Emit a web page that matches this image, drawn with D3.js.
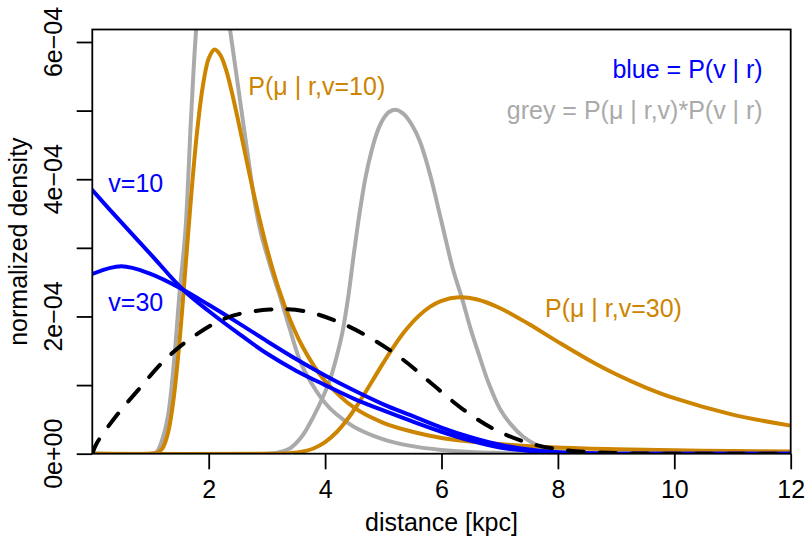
<!DOCTYPE html>
<html><head><meta charset="utf-8">
<script src="https://cdn.jsdelivr.net/npm/d3@7"></script>
<style>body{margin:0;background:#fff}svg{display:block}text{font-family:"Liberation Sans",Arial,Helvetica,sans-serif}</style>
</head><body>
<svg id="c" width="806" height="544"></svg>
<script>
// values in units of 1e-4 (normalized density), x in kpc
const blue10X = [0,0.5,1.0,1.56,2.0,2.5,3.0,3.5,4.0,4.5,5.0,5.5,6.0,6.5,7.0,7.5,8.0,8.5,9,10,12];
const blue10Y = [3.84,3.37,2.91,2.39,2.08,1.76,1.46,1.21,1.00,0.80,0.63,0.47,0.32,0.19,0.09,0.04,0.015,0.005,0,0,0];
const blue30X = [0,0.5,1.0,1.56,2.0,2.5,3.0,3.5,4.0,4.5,5.0,5.5,6.0,6.5,7.0,7.5,8.0,8.5,9,10,12];
const blue30Y = [2.62,2.73,2.62,2.39,2.17,1.91,1.64,1.38,1.14,0.92,0.72,0.55,0.38,0.24,0.13,0.06,0.02,0.007,0,0,0];
const orange10X = [0,1.0,1.1,1.2,1.3,1.4,1.5,1.6,1.7,1.8,1.9,2.0,2.1,2.2,2.3,2.4,2.5,2.6,2.8,3.0,3.2,3.4,3.6,3.8,4.0,4.5,5.0,5.5,6.0,7.0,8.0,9.0,10,11,12];
const orange10Y = [0,0,0.01,0.07,0.30,0.82,1.65,2.70,3.77,4.69,5.36,5.76,5.89,5.81,5.59,5.26,4.88,4.48,3.69,2.99,2.41,1.95,1.58,1.29,1.06,0.67,0.45,0.32,0.23,0.14,0.09,0.065,0.049,0.039,0.032];
const orange30X = [0,3.2,3.4,3.6,3.8,4.0,4.2,4.4,4.6,4.8,5.0,5.2,5.4,5.6,5.8,6.0,6.3,6.6,7.0,7.5,8.0,8.5,9.0,9.5,10,11,12];
const orange30Y = [0,0,0.008,0.028,0.076,0.168,0.316,0.52,0.77,1.045,1.324,1.587,1.816,2.001,2.139,2.228,2.28,2.251,2.124,1.89,1.63,1.381,1.158,0.968,0.809,0.57,0.409];
const grey10X = [0,1.0,1.1,1.2,1.3,1.4,1.5,1.6,1.7,1.8,1.9,2.0,2.1,2.2,2.3,2.4,2.5,2.6,2.7,2.8,2.9,3.0,3.1,3.2,3.3,3.4,3.5,3.6,3.8,4.0,4.2,4.5,5.0,5.5,6.0,6.5,7.0,7.5,12];
const grey10Y = [0,0,0.02,0.2,0.55,1.3,2.35,3.25,4.95,6.35,7.05,7.38,7.3,6.95,6.55,5.98,5.38,4.78,4.18,3.62,3.2,2.9,2.62,2.36,2.08,1.8,1.52,1.29,0.98,0.74,0.57,0.39,0.21,0.11,0.055,0.025,0.01,0,0];
const grey30X = [0,3.0,3.2,3.4,3.6,3.8,4.0,4.1,4.2,4.3,4.4,4.5,4.6,4.7,4.8,4.9,5.0,5.1,5.23,5.35,5.5,5.63,5.8,6.0,6.2,6.35,6.5,6.66,6.8,7.0,7.2,7.4,7.6,7.8,8.0,8.5,9,12];
const grey30Y = [0,0,0.02,0.08,0.25,0.54,0.90,1.12,1.42,1.78,2.3,2.95,3.55,4.05,4.42,4.7,4.88,4.98,5.01,4.95,4.78,4.55,4.08,3.38,2.68,2.27,1.82,1.40,1.05,0.66,0.42,0.25,0.14,0.07,0.035,0.005,0,0];
const priorX = [0,0.075,0.42,0.79,1.25,1.74,2.34,3.05,3.63,4.26,4.83,5.34,5.86,6.38,6.92,7.52,8.15,9,10,11,12];
const priorY = [0,0.15,0.56,0.93,1.37,1.71,1.99,2.10,2.08,1.91,1.66,1.37,1.00,0.64,0.35,0.15,0.05,0.01,0,0,0];
const xTicks = [2,4,6,8,10,12];
const yTicks = [0,1e-4,2e-4,3e-4,4e-4,5e-4,6e-4];
const yTickLabels = {0:"0e+00",2:"2e\u221204",4:"4e\u221204",6:"6e\u221204"};

const L=92.3,R=790.7,T=29.5,B=453.7;
const x = d3.scaleLinear().domain([0,12]).range([L,R]);
const y = d3.scaleLinear().domain([0,6.182e-4]).range([B,T]);
const svg = d3.select("#c");
const FS = 25;
const ORANGE="#CD8500", GREY="#AAAAAA", BLUE="#0000FF";

svg.append("clipPath").attr("id","clip").append("rect").attr("x",L).attr("y",T).attr("width",R-L).attr("height",B-T);
const g = svg.append("g").attr("clip-path","url(#clip)");
const line = d3.line().x(d=>x(d[0])).y(d=>y(Math.max(0,d[1])*1e-4)).curve(d3.curveCatmullRom.alpha(0.5));
function draw(xs,ys,color,dash){
  const p = g.append("path").datum(xs.map((v,i)=>[v,ys[i]])).attr("d",line)
   .attr("fill","none").attr("stroke",color).attr("stroke-width",4).attr("stroke-linecap","round").attr("stroke-linejoin","round");
  if(dash) p.attr("stroke-dasharray",dash);
}
draw(grey10X,grey10Y,GREY);
draw(grey30X,grey30Y,GREY);
draw(orange10X,orange10Y,ORANGE);
draw(orange30X,orange30Y,ORANGE);
draw(blue10X,blue10Y,BLUE);
draw(blue30X,blue30Y,BLUE);
draw(priorX,priorY,"#000","16,16");

// box
svg.append("rect").attr("x",L).attr("y",T).attr("width",R-L).attr("height",B-T).attr("fill","none").attr("stroke","#000").attr("stroke-width",1.8);
// axes
const xa = svg.append("g").attr("transform",`translate(0,${B})`)
  .call(d3.axisBottom(x).tickValues(xTicks).tickSize(15.6).tickPadding(11).tickFormat(d3.format("d")));
xa.select(".domain").remove();
xa.selectAll("line").attr("stroke","#000").attr("stroke-width",1.8);
xa.selectAll("text").attr("font-size",FS).attr("fill","#000").attr("font-family","Liberation Sans, Arial, sans-serif");
const ya = svg.append("g").attr("transform",`translate(${L},0)`)
  .call(d3.axisLeft(y).tickValues(yTicks).tickSize(15.6).tickFormat(()=>""));
ya.select(".domain").remove();
ya.selectAll("line").attr("stroke","#000").attr("stroke-width",1.8);
Object.keys(yTickLabels).forEach(k=>{
  svg.append("text").attr("transform",`translate(62,${y(+k*1e-4)}) rotate(-90)`).attr("text-anchor","middle")
    .attr("font-size",FS).attr("fill","#000").text(yTickLabels[k]);
});
svg.append("text").attr("x",(L+R)/2).attr("y",531).attr("text-anchor","middle").attr("font-size",FS).text("distance [kpc]");
svg.append("text").attr("transform",`translate(27,${(T+B)/2}) rotate(-90)`).attr("text-anchor","middle").attr("font-size",FS).text("normalized density");

// annotations
function lab(tx,ty,s,col,anchor){svg.append("text").attr("x",tx).attr("y",ty).attr("text-anchor",anchor||"start").attr("font-size",FS).attr("fill",col).text(s);}
lab(762.7,78,"blue = P(v | r)",BLUE,"end");
lab(762.7,119,"grey = P(\u03bc | r,v)*P(v | r)",GREY,"end");
lab(248.3,95,"P(\u03bc | r,v=10)",ORANGE);
lab(545,316.7,"P(\u03bc | r,v=30)",ORANGE);
lab(108.3,191.7,"v=10",BLUE);
lab(108.3,310.7,"v=30",BLUE);
</script>
</body></html>
